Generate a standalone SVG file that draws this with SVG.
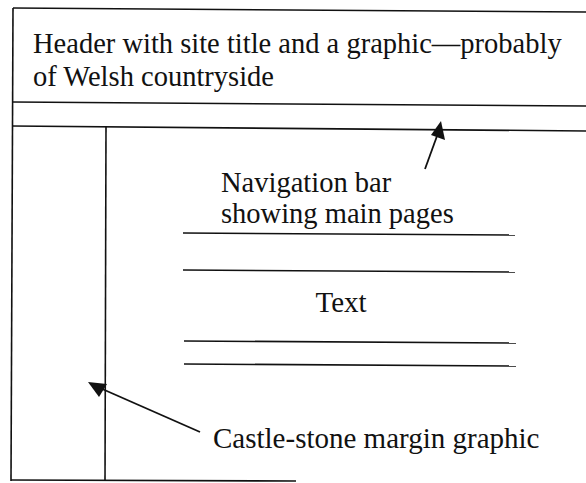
<svg xmlns="http://www.w3.org/2000/svg" width="586" height="483" viewBox="0 0 586 483">
<style>
.ln{stroke:#111;stroke-width:1.6;fill:none}
.conn{stroke:#111;stroke-width:1.8;fill:none}
.head{fill:#111}
text{font-family:"Liberation Serif","Times New Roman",serif;font-size:28.5px;fill:#111}
.big{font-size:29px}
</style>
<rect width="586" height="483" fill="#fff"/>
<g id="frame">
<line class="ln" x1="13" y1="8" x2="586" y2="12"/>
<line class="ln" x1="13" y1="8" x2="11" y2="481"/>
<line class="ln" x1="11" y1="480" x2="296" y2="481"/>
</g>
<g id="header">
<line class="ln" x1="13" y1="102" x2="586" y2="106"/>
<text x="33" y="53">Header with site title and a graphic—probably</text>
<text x="33" y="86">of Welsh countryside</text>
</g>
<g id="navbar">
<line class="ln" x1="12" y1="126" x2="586" y2="131"/>
</g>
<g id="margin">
<line class="ln" x1="106" y1="127" x2="105" y2="481"/>
</g>
<g id="content">
<line class="ln" x1="183" y1="233" x2="515" y2="235"/>
<line class="ln" x1="183" y1="270" x2="515" y2="272"/>
<text class="big" x="341" y="312" text-anchor="middle">Text</text>
<line class="ln" x1="184" y1="341" x2="516" y2="343"/>
<line class="ln" x1="184" y1="364" x2="516" y2="366"/>
</g>
<g id="nav-label">
<text x="221" y="192">Navigation bar</text>
<text x="221" y="223">showing main pages</text>
</g>
<g id="castle-label">
<text class="big" x="213" y="448">Castle-stone margin graphic</text>
</g>
<g id="connectors">
<line class="conn" x1="425" y1="169" x2="437" y2="136"/>
<polygon class="head" points="441,121 445,140 431,135"/>
<line class="conn" x1="200" y1="432" x2="100" y2="388"/>
<polygon class="head" points="88,382 107,384 99,397"/>
</g>
</svg>
